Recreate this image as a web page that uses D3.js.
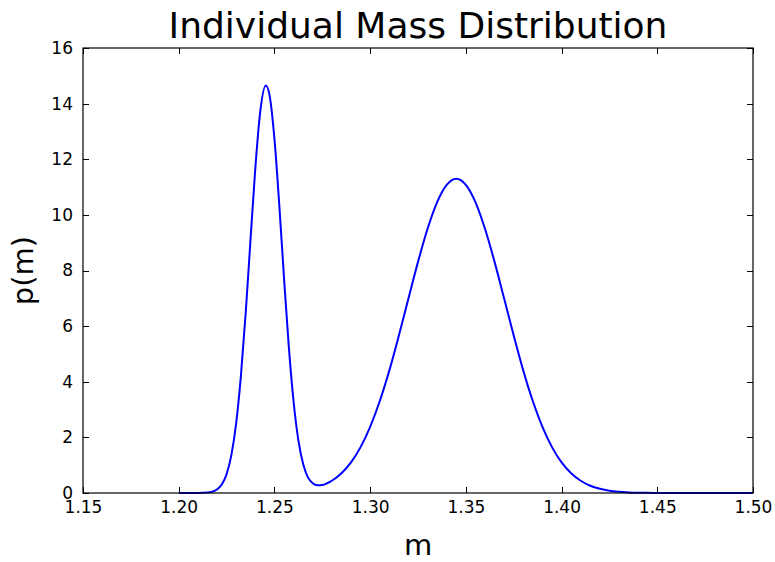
<!DOCTYPE html>
<html>
<head>
<meta charset="utf-8">
<script src="https://d3js.org/d3.v7.min.js"></script>
<style>
  body { margin: 0; background: #fff; }
  .axis text { font-family: "DejaVu Sans", sans-serif; font-size: 17px; fill: #000; }
  .axis line { stroke: #000; stroke-width: 1; shape-rendering: crispEdges; }
  .axis path { display: none; }
</style>
</head>
<body>
<script>
// mass values (x) and density values (y)
var massValues = [1.200, 1.205, 1.210, 1.215, 1.2175, 1.220, 1.2225, 1.225, 1.2275, 1.230,
  1.2325, 1.235, 1.2375, 1.240, 1.2425, 1.2455, 1.2475, 1.250, 1.2525, 1.255,
  1.2575, 1.260, 1.2625, 1.265, 1.2675, 1.270, 1.2725, 1.275, 1.2775, 1.280,
  1.285, 1.290, 1.295, 1.300, 1.305, 1.310, 1.315, 1.320, 1.325, 1.330,
  1.335, 1.340, 1.345, 1.350, 1.355, 1.360, 1.365, 1.370, 1.375, 1.380,
  1.385, 1.390, 1.395, 1.400, 1.405, 1.410, 1.415, 1.420, 1.425, 1.430,
  1.435, 1.440, 1.445, 1.450, 1.460, 1.470, 1.480, 1.490, 1.500];
var densityValues = [0.000, 0.000, 0.002, 0.016, 0.047, 0.127, 0.305, 0.675, 1.36, 2.50,
  4.22, 6.48, 9.10, 11.66, 13.66, 14.65, 14.28, 12.74, 10.39, 7.74,
  5.27, 3.29, 1.90, 1.04, 0.56, 0.35, 0.28, 0.29, 0.35, 0.44,
  0.71, 1.10, 1.65, 2.38, 3.30, 4.40, 5.66, 6.99, 8.31, 9.50,
  10.46, 11.08, 11.30, 11.08, 10.46, 9.50, 8.31, 6.99, 5.66, 4.40,
  3.30, 2.38, 1.65, 1.10, 0.71, 0.44, 0.26, 0.15, 0.08, 0.044,
  0.022, 0.011, 0.005, 0.002, 0.0005, 0.000, 0.000, 0.000, 0.000];
var xTicks = [1.15, 1.20, 1.25, 1.30, 1.35, 1.40, 1.45, 1.50];
var yTicks = [0, 2, 4, 6, 8, 10, 12, 14, 16];

var margin = {top: 48, right: 22, bottom: 69, left: 83};
var outer_width = 775, outer_height = 562;
var width = outer_width - margin.left - margin.right;
var height = outer_height - margin.top - margin.bottom;

var svg = d3.select("body").append("svg")
    .attr("width", outer_width)
    .attr("height", outer_height);
var g = svg.append("g")
    .attr("transform", "translate(" + margin.left + "," + margin.top + ")");

var xScale = d3.scaleLinear().domain([1.15, 1.50]).range([0, width]);
var yScale = d3.scaleLinear().domain([0, 16]).range([height, 0]);

// bottom and left axes with labels, ticks pointing inward
g.append("g").attr("class", "axis")
  .attr("transform", "translate(0," + height + ")")
  .call(d3.axisBottom(xScale).tickValues(xTicks).tickFormat(d3.format(".2f"))
        .tickSizeInner(-6).tickSizeOuter(0).tickPadding(8));
g.append("g").attr("class", "axis")
  .call(d3.axisLeft(yScale).tickValues(yTicks).tickFormat(d3.format("d"))
        .tickSizeInner(-6).tickSizeOuter(0).tickPadding(10));
// top and right: ticks only
g.append("g").attr("class", "axis")
  .call(d3.axisTop(xScale).tickValues(xTicks).tickFormat("")
        .tickSizeInner(-6).tickSizeOuter(0));
g.append("g").attr("class", "axis")
  .attr("transform", "translate(" + width + ",0)")
  .call(d3.axisRight(yScale).tickValues(yTicks).tickFormat("")
        .tickSizeInner(-6).tickSizeOuter(0));

var line = d3.line()
  .x(function(d, i) { return xScale(massValues[i]); })
  .y(function(d) { return yScale(d); })
  .curve(d3.curveMonotoneX);

g.append("path")
  .datum(densityValues)
  .attr("fill", "none")
  .attr("stroke", "#0000ff")
  .attr("stroke-width", 2)
  .attr("d", line);

// frame
g.append("rect")
  .attr("width", width).attr("height", height)
  .attr("fill", "none").attr("stroke", "#000").attr("stroke-width", 1.2);

g.append("text")
  .attr("x", width / 2).attr("y", -10)
  .attr("text-anchor", "middle")
  .style("font-family", "DejaVu Sans, sans-serif").style("font-size", "36px")
  .text("Individual Mass Distribution");

g.append("text")
  .attr("x", width / 2).attr("y", height + 62)
  .attr("text-anchor", "middle")
  .style("font-family", "DejaVu Sans, sans-serif").style("font-size", "29px")
  .text("m");

g.append("text")
  .attr("transform", "translate(" + (-50) + "," + (height / 2) + ") rotate(-90)")
  .attr("text-anchor", "middle")
  .style("font-family", "DejaVu Sans, sans-serif").style("font-size", "29px")
  .text("p(m)");
</script>
</body>
</html>
